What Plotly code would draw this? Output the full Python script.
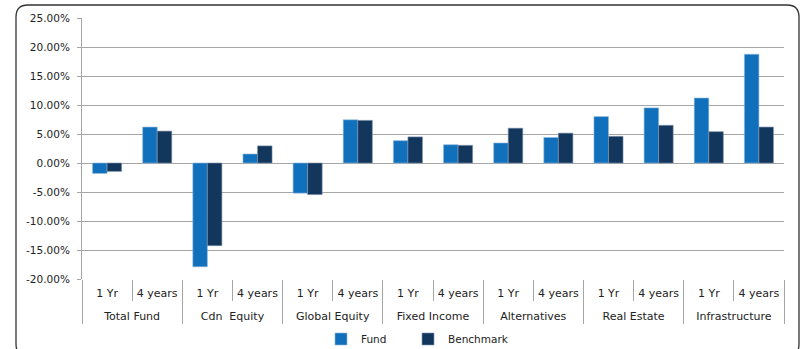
import plotly.graph_objects as go

groups = ["Total Fund", "Cdn  Equity", "Global Equity", "Fixed Income",
          "Alternatives", "Real Estate", "Infrastructure"]
periods = ["1 Yr", "4 years"]
fund = [-1.8, 6.2, -17.9, 1.55, -5.2, 7.45, 3.85, 3.15, 3.45, 4.4, 8.0, 9.5, 11.2, 18.75]
benchmark = [-1.45, 5.5, -14.25, 2.95, -5.45, 7.35, 4.5, 3.05, 6.0, 5.15, 4.6, 6.5, 5.4, 6.2]
yticks = [-20, -15, -10, -5, 0, 5, 10, 15, 20, 25]

# inner labels get an extra blank line so the outer row sits lower, as in the reference
period_labels = [p + "<br>\u00a0" for p in periods]
xg = [g for g in groups for _ in periods]
xp = [p for _ in groups for p in period_labels]

fig = go.Figure()
fig.add_trace(go.Bar(x=[xg, xp], y=fund, name="Fund", legend="legend",
                     marker=dict(color="#1170BB", line=dict(color="#8FB8DE", width=0.6))))
fig.add_trace(go.Bar(x=[xg, xp], y=benchmark, name="Benchmark", legend="legend2",
                     marker=dict(color="#13365D", line=dict(color="#7F93AB", width=0.6))))

W, H = 802, 349
ml, mr, mt, mb = 82, 18, 18, 70
pw, ph = W - ml - mr, H - mt - mb

def P(x, y):
    a, b = (x - ml) / pw, (H - mb - y) / ph
    return f"{a:.5f},{b:.5f}"

# rounded border path
x0, y0, x1, y1, r = 16, 5, 799, 356, 12
path = (f"M {P(x0+r, y0)} L {P(x1-r, y0)} Q {P(x1, y0)} {P(x1, y0+r)} "
        f"L {P(x1, y1-r)} Q {P(x1, y1)} {P(x1-r, y1)} L {P(x0+r, y1)} "
        f"Q {P(x0, y1)} {P(x0, y1-r)} L {P(x0, y0+r)} Q {P(x0, y0)} {P(x0+r, y0)} Z")

leg_common = dict(orientation="h", xanchor="left", yanchor="middle", y=(279 - 339) / ph,
                  bgcolor="rgba(0,0,0,0)", font=dict(size=10.5), itemwidth=30)
fig.update_layout(
    width=W, height=H,
    margin=dict(l=ml, r=mr, t=mt, b=mb, autoexpand=False),
    paper_bgcolor="white", plot_bgcolor="white",
    barmode="group", bargap=0.42, bargroupgap=0.0,
    font=dict(family="DejaVu Sans", size=10.5, color="#222222"),
    showlegend=True,
    legend=dict(x=(321 - ml) / pw, **leg_common),
    legend2=dict(x=(408 - ml) / pw, **leg_common),
    shapes=[dict(type="path", xref="paper", yref="paper", path=path,
                 line=dict(color="#333333", width=1.3), layer="below")],
)
fig.update_yaxes(range=[-20, 25], tickvals=yticks,
                 ticktext=[f"{v:.2f}%" for v in yticks],
                 showgrid=True, gridcolor="#A6A6A6", gridwidth=1,
                 zeroline=True, zerolinecolor="#A6A6A6", zerolinewidth=1,
                 showline=True, linecolor="#A6A6A6", linewidth=1,
                 ticks="outside", ticklen=4, tickcolor="#A6A6A6",
                 ticklabelstandoff=5, tickfont=dict(size=10.5))
fig.update_xaxes(showline=False, ticks="outside", tickson="boundaries",
                 ticklen=21, tickcolor="#A6A6A6", tickwidth=1,
                 ticklabelstandoff=6, automargin=False,
                 showdividers=True, dividercolor="#A6A6A6", dividerwidth=1,
                 tickfont=dict(size=11))

fig.write_html("out.html")
